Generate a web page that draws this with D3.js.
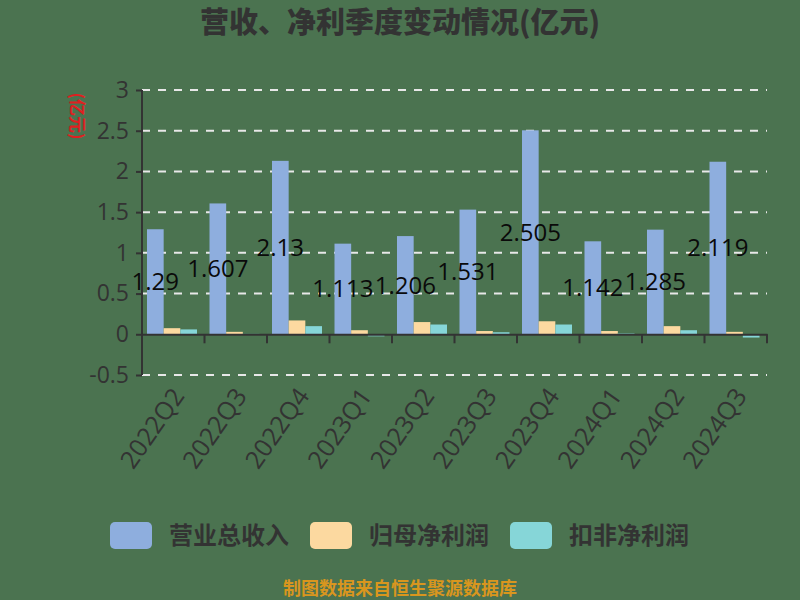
<!DOCTYPE html>
<html>
<head>
<meta charset="utf-8">
<script src="https://cdn.jsdelivr.net/npm/d3@7"></script>
<style>
  body { margin: 0; background: #4b7350; }
  text { font-family: "Noto Sans CJK SC", "Noto Sans", sans-serif; }
</style>
</head>
<body>
<div id="chart"></div>
<script>
// quarters and values (亿元)
const quarters = ["2022Q2", "2022Q3", "2022Q4", "2023Q1", "2023Q2", "2023Q3", "2023Q4", "2024Q1", "2024Q2", "2024Q3"];
const revenue = [1.29, 1.607, 2.13, 1.113, 1.206, 1.531, 2.505, 1.142, 1.285, 2.119];
const netProfit = [0.075, 0.03, 0.17, 0.05, 0.15, 0.04, 0.16, 0.04, 0.10, 0.03];
const deductedProfit = [0.06, 0.005, 0.10, -0.025, 0.12, 0.025, 0.12, 0.01, 0.05, -0.04];
const seriesNames = ["营业总收入", "归母净利润", "扣非净利润"];
const seriesColors = ["#8eaede", "#fcd9a0", "#86d6d8"];
const yTicks = [-0.5, 0, 0.5, 1, 1.5, 2, 2.5, 3];

const width = 800, height = 600;
const margin = { top: 90, right: 33, bottom: 225, left: 142 };
const innerW = width - margin.left - margin.right;
const innerH = height - margin.top - margin.bottom;

const svg = d3.select("#chart").append("svg")
    .attr("width", width)
    .attr("height", height);

svg.append("rect").attr("width", width).attr("height", height).attr("fill", "#4b7350");

const g = svg.append("g")
    .attr("transform", `translate(${margin.left},${margin.top})`);

const x = d3.scaleBand().domain(quarters).range([0, innerW]);
const x1 = d3.scaleBand().domain(d3.range(3)).range([x.bandwidth() * 0.08, x.bandwidth() * 0.88]);
const y = d3.scaleLinear().domain([-0.5, 3]).range([innerH, 0]);

// grid lines
g.append("g")
    .selectAll("line")
    .data(yTicks)
    .join("line")
    .attr("x1", 0)
    .attr("x2", innerW)
    .attr("y1", d => y(d))
    .attr("y2", d => y(d))
    .attr("stroke", d => d === 0 ? "none" : "#e8e8e8")
    .attr("stroke-width", 2)
    .attr("stroke-dasharray", "8,8");

// bars
const table = quarters.map((q, i) => ({ q, vals: [revenue[i], netProfit[i], deductedProfit[i]] }));
const groups = g.append("g")
    .selectAll("g")
    .data(table)
    .join("g")
    .attr("transform", d => `translate(${x(d.q)},0)`);

groups.selectAll("rect")
    .data(d => d.vals)
    .join("rect")
    .attr("x", (d, i) => x1(i))
    .attr("width", x1.bandwidth())
    .attr("y", d => y(Math.max(0, d)))
    .attr("height", d => Math.abs(y(d) - y(0)))
    .attr("fill", (d, i) => seriesColors[i]);

// y axis
const yAxis = g.append("g")
    .call(d3.axisLeft(y).tickValues(yTicks).tickSize(6).tickPadding(7).tickFormat(d => String(d)));
yAxis.select(".domain").attr("stroke", "#333").attr("stroke-width", 2).attr("d", `M0,${y(3)}V${y(-0.5)}`);
yAxis.selectAll(".tick line").attr("stroke", "#333").attr("stroke-width", 2);
yAxis.selectAll(".tick text")
    .attr("fill", "#333")
    .style("font-size", "23px")
    .style("font-family", "'Open Sans', sans-serif");

// x axis at zero
const xAxis = g.append("g")
    .attr("transform", `translate(0,${y(0)})`)
    .call(d3.axisBottom(x).tickSize(0).tickFormat(""));
xAxis.select(".domain").attr("stroke", "#333").attr("stroke-width", 2);
xAxis.selectAll(".tick").remove();
xAxis.selectAll(".sep")
    .data(d3.range(1, quarters.length + 1))
    .join("line")
    .attr("x1", i => x.step() * i)
    .attr("x2", i => x.step() * i)
    .attr("y1", 0)
    .attr("y2", 9)
    .attr("stroke", "#333")
    .attr("stroke-width", 2);

// x labels
g.append("g")
    .selectAll("text")
    .data(quarters)
    .join("text")
    .attr("transform", d => `translate(${x(d) + x.bandwidth() / 2 + 5},${innerH + 16}) rotate(-55)`)
    .attr("text-anchor", "end")
    .attr("dy", "0.35em")
    .attr("fill", "#333")
    .style("font-size", "25px")
    .style("font-family", "'Open Sans', sans-serif")
    .text(d => d);

// value labels on revenue bars
g.append("g")
    .selectAll("text")
    .data(table)
    .join("text")
    .attr("x", d => x(d.q) + x1(0) + x1.bandwidth() / 2)
    .attr("y", d => y(d.vals[0] / 2))
    .attr("text-anchor", "middle")
    .attr("dy", "0.35em")
    .attr("fill", "#0a0a0a")
    .style("font-size", "24px")
    .style("font-family", "'Open Sans', sans-serif")
    .text(d => d.vals[0]);

// title
svg.append("text")
    .attr("x", 400)
    .attr("y", 23)
    .attr("text-anchor", "middle")
    .attr("dy", "0.35em")
    .attr("fill", "#333")
    .style("font-size", "29px")
    .style("font-weight", "900")
    .text("营收、净利季度变动情况(亿元)");

// y axis name
svg.append("text")
    .attr("transform", "translate(77,116) rotate(90)")
    .attr("text-anchor", "middle")
    .attr("dy", "0.35em")
    .attr("fill", "#e02020")
    .style("font-size", "17px")
    .style("font-weight", "bold")
    .text("(亿元)");

// legend
const legend = svg.append("g")
    .selectAll("g")
    .data(seriesNames)
    .join("g")
    .attr("transform", (d, i) => `translate(${110 + i * 200},522)`);
legend.append("rect")
    .attr("width", 42)
    .attr("height", 27)
    .attr("rx", 5)
    .attr("fill", (d, i) => seriesColors[i]);
legend.append("text")
    .attr("x", 59)
    .attr("y", 14)
    .attr("dy", "0.35em")
    .attr("fill", "#333")
    .style("font-size", "24px")
    .style("font-weight", "bold")
    .text(d => d);

// footer
svg.append("text")
    .attr("x", 400)
    .attr("y", 589)
    .attr("text-anchor", "middle")
    .attr("dy", "0.35em")
    .attr("fill", "#d9961e")
    .style("font-size", "18px")
    .style("font-weight", "bold")
    .text("制图数据来自恒生聚源数据库");
</script>
</body>
</html>
